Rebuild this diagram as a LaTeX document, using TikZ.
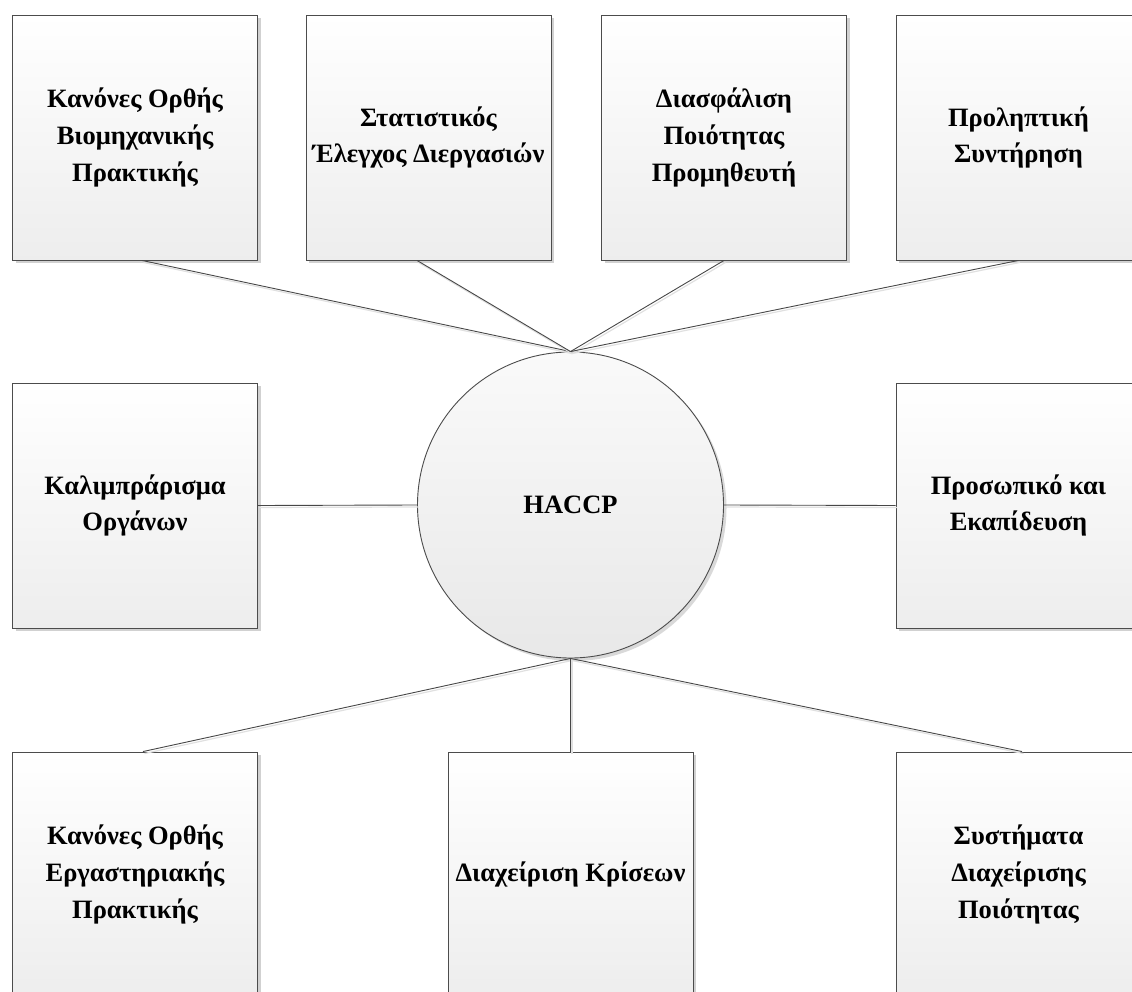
\documentclass[tikz,border=0pt]{standalone}
\usepackage{fontspec}
\setmainfont{Liberation Serif}
\usetikzlibrary{shadows,calc}

\tikzset{
  topic/.style={draw=black!70, line width=0.9pt, minimum width=245pt, minimum height=245pt,
    inner sep=0pt, align=center, top color=white, bottom color=black!7,
    font=\fontsize{26.5}{36.7}\selectfont\bfseries,
    drop shadow={shadow xshift=3pt, shadow yshift=-3pt, fill=black!18, opacity=1}},
  hubnode/.style={circle, draw=black!70, line width=0.9pt, minimum size=306pt, inner sep=0pt,
    top color=black!2, bottom color=black!9,
    font=\fontsize{26.5}{36.7}\selectfont\bfseries,
    drop shadow={shadow xshift=3pt, shadow yshift=-3pt, fill=black!15, opacity=1}},
  link/.style={draw=black!72, line width=0.9pt,
    preaction={draw=black!12, line width=1.2pt, transform canvas={shift={(1.5pt,-2pt)}}}}
}

\begin{document}
\begin{tikzpicture}[x=1pt, y=-1pt]
  \useasboundingbox (0,0) rectangle (1132,992);
  \clip (0,0) rectangle (1132,992);

  % outer ring of practices
  \node[topic] (gmp) at (135,137.5) {Κανόνες Ορθής\\Βιομηχανικής\\Πρακτικής};
  \node[topic] (spc) at (428.5,137.5) {Στατιστικός\\Έλεγχος Διεργασιών};
  \node[topic] (sqa) at (724,137.5) {Διασφάλιση\\Ποιότητας\\Προμηθευτή};
  \node[topic] (pm)  at (1018.5,137.5) {Προληπτική\\Συντήρηση};

  \node[topic] (cal) at (135,505.5) {Καλιμπράρισμα\\Οργάνων};
  \node[topic] (trn) at (1018.5,505.5) {Προσωπικό και\\Εκαπίδευση};

  \node[topic] (glp) at (135,874.5) {Κανόνες Ορθής\\Εργαστηριακής\\Πρακτικής};
  \node[topic] (crm) at (570.5,874.5) {Διαχείριση Κρίσεων};
  \node[topic] (qms) at (1018.5,874.5) {Συστήματα\\Διαχείρισης\\Ποιότητας};

  % central system
  \node[hubnode] (haccp) at (570.5,505) {HACCP};

  % spokes
  \draw[link] ([xshift=7pt]gmp.south) -- (haccp.north);
  \draw[link] ([xshift=-11.5pt]spc.south) -- (haccp.north);
  \draw[link] (sqa.south) -- (haccp.north);
  \draw[link] (pm.south) -- (haccp.north);
  \draw[link] (cal.east) -- (haccp.west);
  \draw[link] (haccp.east) -- (trn.west);
  \draw[link] (haccp.south) -- ([xshift=8pt]glp.north);
  \draw[link] (haccp.south) -- (crm.north);
  \draw[link] (haccp.south) -- ([xshift=3.5pt]qms.north);
\end{tikzpicture}
\end{document}
